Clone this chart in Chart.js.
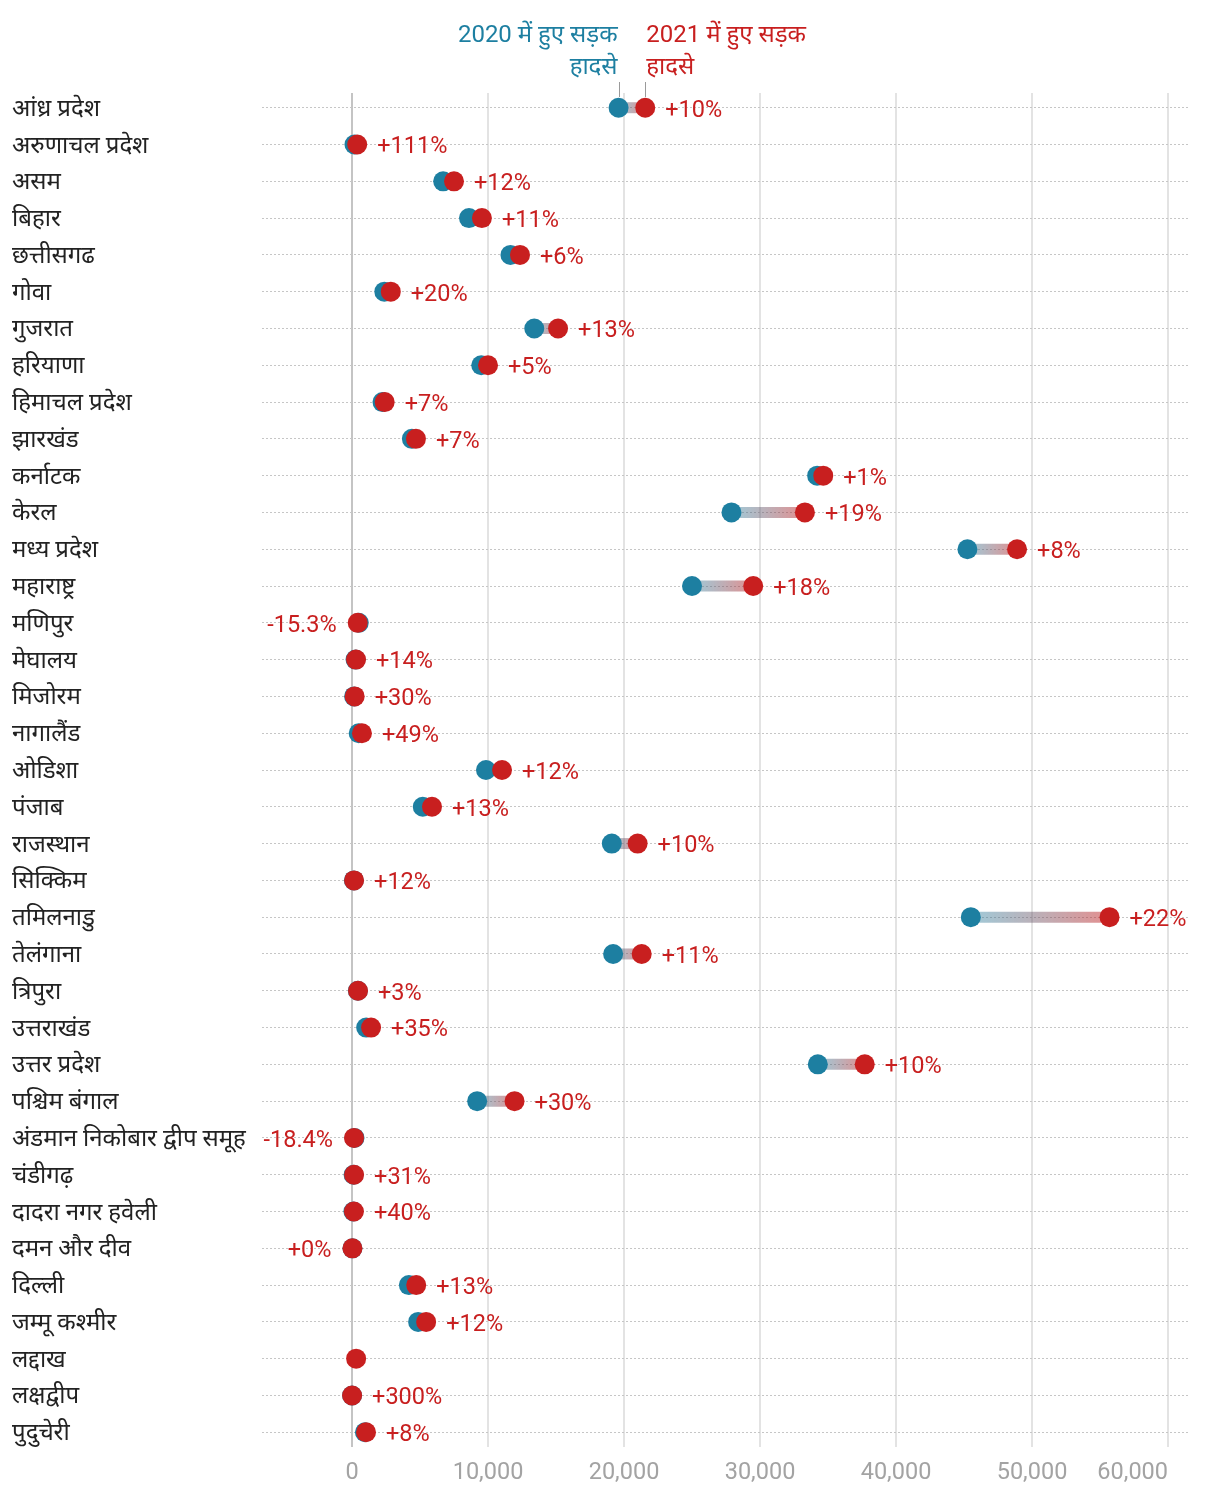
<!DOCTYPE html>
<html>
<head>
<meta charset="utf-8">
<script src="https://cdn.jsdelivr.net/npm/chart.js@4.4.0/dist/chart.umd.min.js"></script>
<style>
html,body{margin:0;padding:0;background:#ffffff;}
#wrap{width:1220px;height:1502px;position:relative;}
</style>
</head>
<body>
<div id="wrap"><canvas id="c"></canvas></div>
<script>
const states = ['आंध्र प्रदेश','अरुणाचल प्रदेश','असम','बिहार','छत्तीसगढ','गोवा','गुजरात','हरियाणा','हिमाचल प्रदेश','झारखंड','कर्नाटक','केरल','मध्य प्रदेश','महाराष्ट्र','मणिपुर','मेघालय','मिजोरम','नागालैंड','ओडिशा','पंजाब','राजस्थान','सिक्किम','तमिलनाडु','तेलंगाना','त्रिपुरा','उत्तराखंड','उत्तर प्रदेश','पश्चिम बंगाल','अंडमान निकोबार द्वीप समूह','चंडीगढ़','दादरा नगर हवेली','दमन और दीव','दिल्ली','जम्मू कश्मीर','लद्दाख','लक्षद्वीप','पुदुचेरी'];
const accidents2020 = [19600,180,6700,8600,11650,2375,13400,9500,2240,4400,34200,27900,45250,25000,495,258,150,490,9850,5200,19100,134,45500,19200,428,1040,34250,9200,180,115,100,30,4180,4860,null,1,950];
const accidents2021 = [21560,380,7500,9550,12350,2850,15150,10000,2400,4700,34650,33300,48900,29500,419,294,195,730,11030,5880,21000,150,55700,21300,441,1400,37700,11950,147,151,140,30,4720,5450,300,4,1030];
const changeLabels = ['+10%','+111%','+12%','+11%','+6%','+20%','+13%','+5%','+7%','+7%','+1%','+19%','+8%','+18%','-15.3%','+14%','+30%','+49%','+12%','+13%','+10%','+12%','+22%','+11%','+3%','+35%','+10%','+30%','-18.4%','+31%','+40%','+0%','+13%','+12%','','+300%','+8%'];
const xTickValues = [0,10000,20000,30000,40000,50000,60000];
const header2020 = ['2020 में हुए सड़क','हादसे'];
const header2021 = ['2021 में हुए सड़क','हादसे'];

const BLUE = '#1d7fa1';
const RED = '#c81f1f';
const X_MIN = -6620, X_MAX = 61470;
const FONT_FAMILY = 'Roboto, "Noto Sans Devanagari", "Noto Sans", sans-serif';

const connectorPlugin = {
  id: 'connectors',
  beforeDatasetsDraw(chart) {
    const {ctx, scales} = chart;
    const x = scales.x, y = scales.y;
    ctx.save();
    ctx.lineWidth = 11;
    ctx.lineCap = 'butt';
    states.forEach((s, i) => {
      const a = accidents2020[i], b = accidents2021[i];
      if (a == null || b == null) return;
      const xa = x.getPixelForValue(a), xb = x.getPixelForValue(b), yy = y.getPixelForValue(i);
      if (Math.abs(xb - xa) < 1) return;
      const g = ctx.createLinearGradient(xa, 0, xb, 0);
      g.addColorStop(0, 'rgba(29,127,161,0.42)');
      g.addColorStop(1, 'rgba(200,31,31,0.5)');
      ctx.strokeStyle = g;
      ctx.beginPath();
      ctx.moveTo(xa, yy);
      ctx.lineTo(xb, yy);
      ctx.stroke();
    });
    ctx.restore();
  }
};

const labelPlugin = {
  id: 'changeLabels',
  afterDatasetsDraw(chart) {
    const {ctx, scales} = chart;
    const x = scales.x, y = scales.y;
    ctx.save();
    ctx.font = '23.5px ' + FONT_FAMILY;
    ctx.fillStyle = RED;
    ctx.textBaseline = 'middle';
    states.forEach((s, i) => {
      const label = changeLabels[i];
      if (!label) return;
      const a = accidents2020[i], b = accidents2021[i];
      const xb = x.getPixelForValue(b);
      const xa = a == null ? xb : x.getPixelForValue(a);
      const yy = y.getPixelForValue(i) + 3;
      if (a == null || b > a) {
        ctx.textAlign = 'left';
        ctx.fillText(label, xb + 20, yy);
      } else {
        ctx.textAlign = 'right';
        ctx.fillText(label, Math.min(xa, xb) - 21, yy);
      }
    });
    ctx.restore();
  }
};

const headerPlugin = {
  id: 'headers',
  afterDraw(chart) {
    const {ctx, scales} = chart;
    const x = scales.x;
    const xa = x.getPixelForValue(accidents2020[0]);
    const xb = x.getPixelForValue(accidents2021[0]);
    ctx.save();
    ctx.font = '24px ' + FONT_FAMILY;
    ctx.textBaseline = 'alphabetic';
    ctx.fillStyle = BLUE;
    ctx.textAlign = 'right';
    ctx.fillText(header2020[0], xa - 1, 42);
    ctx.fillText(header2020[1], xa - 1, 74);
    ctx.fillStyle = RED;
    ctx.textAlign = 'left';
    ctx.fillText(header2021[0], xb + 1, 42);
    ctx.fillText(header2021[1], xb + 1, 74);
    ctx.strokeStyle = '#9a9a9a';
    ctx.lineWidth = 1;
    ctx.beginPath();
    ctx.moveTo(Math.round(xa) + 0.5, 82); ctx.lineTo(Math.round(xa) + 0.5, 97);
    ctx.moveTo(Math.round(xb) + 0.5, 82); ctx.lineTo(Math.round(xb) + 0.5, 97);
    ctx.stroke();
    ctx.restore();
  }
};

const toPoints = arr => arr.map((v, i) => v == null ? null : {x: v, y: i}).filter(p => p);

new Chart(document.getElementById('c'), {
  type: 'scatter',
  data: {
    datasets: [
      {label: '2020', data: toPoints(accidents2020), backgroundColor: BLUE, borderWidth: 0, pointRadius: 10, pointHoverRadius: 10, order: 2},
      {label: '2021', data: toPoints(accidents2021), backgroundColor: RED, borderWidth: 0, pointRadius: 10, pointHoverRadius: 10, order: 1}
    ]
  },
  options: {
    responsive: true,
    maintainAspectRatio: false,
    animation: false,
    events: [],
    layout: {padding: {top: 93, left: 12, right: 32, bottom: 0}},
    plugins: {legend: {display: false}, tooltip: {enabled: false}},
    scales: {
      x: {
        type: 'linear',
        min: X_MIN,
        max: X_MAX,
        afterBuildTicks: scale => { scale.ticks = [{value: X_MIN}].concat(xTickValues.map(v => ({value: v}))); },
        afterFit: scale => { scale.height = 55; },
        border: {display: false},
        grid: {
          drawTicks: false,
          color: c => c.tick && c.tick.value === X_MIN ? 'rgba(0,0,0,0)' : (c.tick && c.tick.value === 0 ? '#c4c4c4' : '#e3e3e3'),
          lineWidth: 2
        },
        ticks: {
          align: 'inner',
          padding: 12,
          color: '#a3a3a3',
          font: {family: FONT_FAMILY, size: 23.5},
          maxRotation: 0,
          autoSkip: false,
          callback: v => v === X_MIN ? '' : v.toLocaleString('en-US')
        }
      },
      y: {
        type: 'linear',
        reverse: true,
        min: -0.4,
        max: 36.4,
        afterBuildTicks: scale => { scale.ticks = states.map((s, i) => ({value: i})); },
        afterFit: scale => { scale.width = 250; },
        border: {display: false, dash: [2, 2]},
        grid: {
          drawTicks: false,
          color: '#c6c6c6',
          lineWidth: 1
        },
        ticks: {
          crossAlign: 'far',
          padding: 0,
          labelOffset: 2,
          color: '#222222',
          font: {family: FONT_FAMILY, size: 24},
          autoSkip: false,
          callback: v => states[v]
        }
      }
    }
  },
  plugins: [connectorPlugin, labelPlugin, headerPlugin]
});
</script>
</body>
</html>
